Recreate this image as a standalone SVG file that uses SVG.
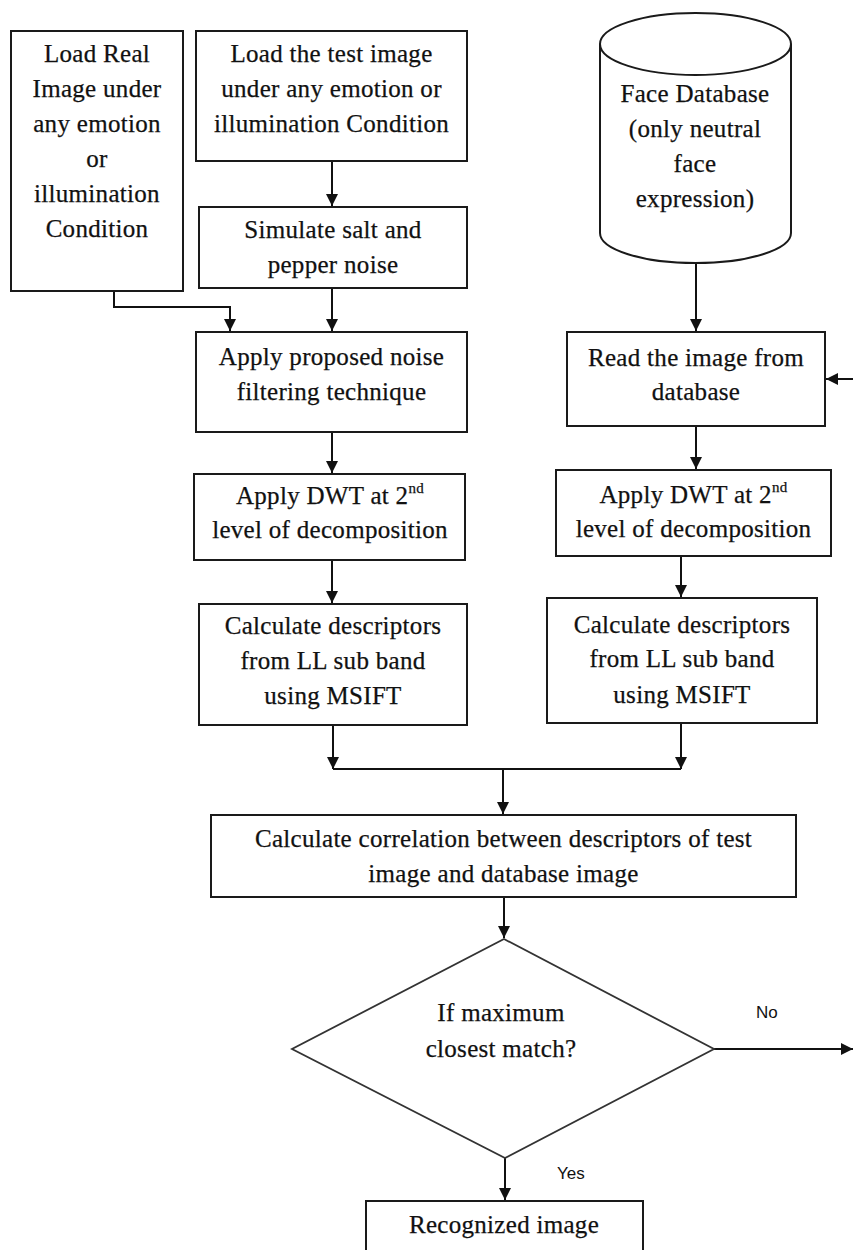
<svg xmlns="http://www.w3.org/2000/svg" width="853" height="1250" viewBox="0 0 853 1250">
<style>
.box{fill:#fff;stroke:#1a1a1a;stroke-width:2}
.dia{fill:#fff;stroke:#333;stroke-width:1.8}
.t{font-family:"Liberation Serif","Times New Roman",serif;font-size:25px;fill:#111;stroke:#111;stroke-width:0.25;letter-spacing:0.3px;text-anchor:middle}
.s{font-family:"Liberation Sans",Arial,sans-serif;font-size:17px;fill:#111}
.c{fill:none;stroke:#111;stroke-width:2}
</style>
<defs>
<marker id="ah" markerWidth="12" markerHeight="12" refX="12" refY="6" orient="auto" markerUnits="userSpaceOnUse">
<path d="M0,0 L12,6 L0,12 z" fill="#111"/>
</marker>
</defs>
<rect width="853" height="1250" fill="#fff"/>

<g id="connectors">
<path class="c" d="M114,291 V307 H230 V331" marker-end="url(#ah)"/>
<path class="c" d="M332,161 V206" marker-end="url(#ah)"/>
<path class="c" d="M332,288 V331" marker-end="url(#ah)"/>
<path class="c" d="M332,432 V473" marker-end="url(#ah)"/>
<path class="c" d="M332,560 V603" marker-end="url(#ah)"/>
<path class="c" d="M696,263 V331" marker-end="url(#ah)"/>
<path class="c" d="M853,379 H826" marker-end="url(#ah)"/>
<path class="c" d="M696,426 V469" marker-end="url(#ah)"/>
<path class="c" d="M681,556 V597" marker-end="url(#ah)"/>
<path class="c" d="M333,725 V769" marker-end="url(#ah)"/>
<path class="c" d="M681,723 V769" marker-end="url(#ah)"/>
<path class="c" d="M333,769 H681"/>
<path class="c" d="M503,769 V814" marker-end="url(#ah)"/>
<path class="c" d="M504,897 V938" marker-end="url(#ah)"/>
<path class="c" d="M714,1049 H853" marker-end="url(#ah)"/>
<path class="c" d="M505,1158 V1200" marker-end="url(#ah)"/>
<text class="s" x="756" y="1018">No</text>
<text class="s" x="557" y="1179">Yes</text>
</g>

<g id="load-real">
<rect class="box" x="11" y="31" width="172" height="260"/>
<text class="t" x="97" y="62">Load Real</text>
<text class="t" x="97" y="97">Image under</text>
<text class="t" x="97" y="132">any emotion</text>
<text class="t" x="97" y="167">or</text>
<text class="t" x="97" y="202">illumination</text>
<text class="t" x="97" y="237">Condition</text>
</g>

<g id="load-test">
<rect class="box" x="196" y="31" width="271" height="130"/>
<text class="t" x="331.5" y="62">Load the test image</text>
<text class="t" x="331.5" y="97">under any emotion or</text>
<text class="t" x="331.5" y="132">illumination Condition</text>
</g>

<g id="simulate">
<rect class="box" x="199" y="207" width="268" height="81"/>
<text class="t" x="333" y="238">Simulate salt and</text>
<text class="t" x="333" y="273">pepper noise</text>
</g>

<g id="apply-filter">
<rect class="box" x="196" y="332" width="271" height="100"/>
<text class="t" x="331.5" y="365">Apply proposed noise</text>
<text class="t" x="331.5" y="400">filtering technique</text>
</g>

<g id="dwt-left">
<rect class="box" x="194" y="474" width="271" height="86"/>
<text class="t" x="330" y="504">Apply DWT at 2<tspan font-size="15" dy="-11">nd</tspan></text>
<text class="t" x="330" y="538">level of decomposition</text>
</g>

<g id="calc-left">
<rect class="box" x="199" y="604" width="268" height="121"/>
<text class="t" x="333" y="634">Calculate descriptors</text>
<text class="t" x="333" y="669">from LL sub band</text>
<text class="t" x="333" y="704">using MSIFT</text>
</g>

<g id="face-db">
<path class="box" d="M600,44 V233 A95.5,30 0 0 0 791,233 V44"/>
<ellipse class="box" cx="695.5" cy="44" rx="95.5" ry="31"/>
<text class="t" x="695" y="102">Face Database</text>
<text class="t" x="695" y="137">(only neutral</text>
<text class="t" x="695" y="172">face</text>
<text class="t" x="695" y="207">expression)</text>
</g>

<g id="read-db">
<rect class="box" x="567" y="332" width="258" height="94"/>
<text class="t" x="696" y="366">Read the image from</text>
<text class="t" x="696" y="400">database</text>
</g>

<g id="dwt-right">
<rect class="box" x="556" y="470" width="275" height="86"/>
<text class="t" x="693.5" y="503">Apply DWT at 2<tspan font-size="15" dy="-11">nd</tspan></text>
<text class="t" x="693.5" y="537">level of decomposition</text>
</g>

<g id="calc-right">
<rect class="box" x="547" y="598" width="270" height="125"/>
<text class="t" x="682" y="633">Calculate descriptors</text>
<text class="t" x="682" y="667">from LL sub band</text>
<text class="t" x="682" y="703">using MSIFT</text>
</g>

<g id="correlation">
<rect class="box" x="211" y="815" width="585" height="82"/>
<text class="t" x="503.5" y="847">Calculate correlation between descriptors of test</text>
<text class="t" x="503.5" y="882">image and database image</text>
</g>

<g id="decision">
<path class="dia" d="M504,939 L714,1049 L505,1158 L292,1049 Z"/>
<text class="t" x="501" y="1021">If maximum</text>
<text class="t" x="501" y="1057">closest match?</text>
</g>

<g id="recognized">
<rect class="box" x="366" y="1201" width="277" height="60"/>
<text class="t" x="504" y="1233">Recognized image</text>
</g>
</svg>
